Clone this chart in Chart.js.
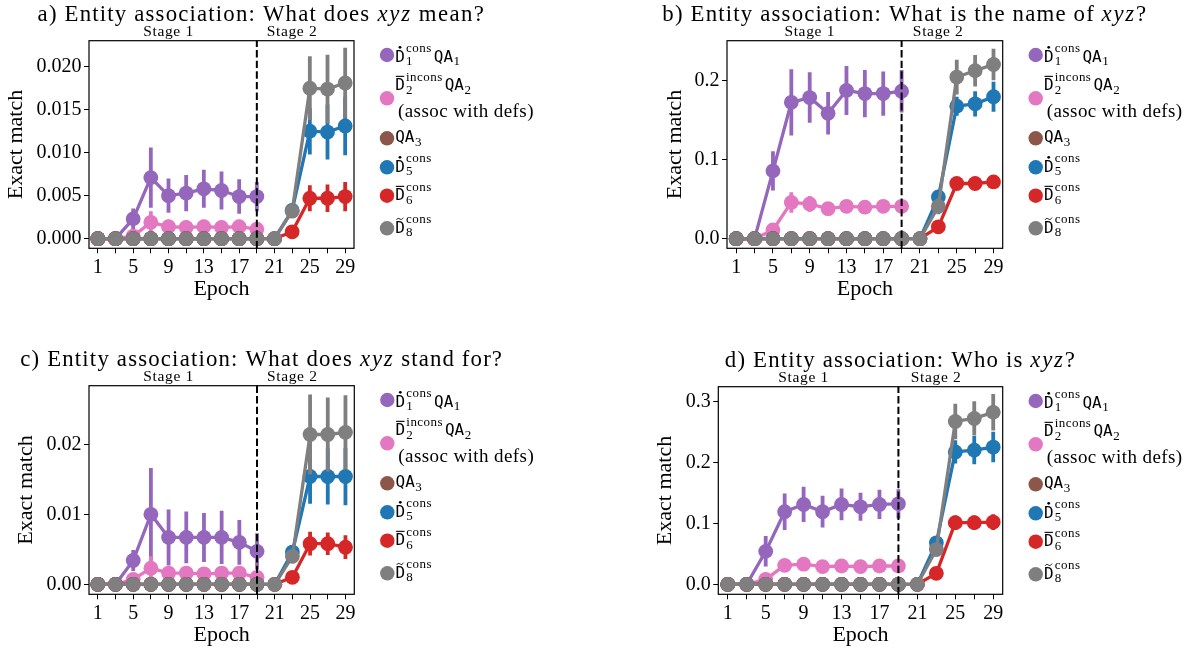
<!DOCTYPE html>
<html>
<head>
<meta charset="utf-8">
<script src="https://cdn.jsdelivr.net/npm/chart.js@4.4.1/dist/chart.umd.min.js"></script>
<style>
  html, body { margin: 0; padding: 0; background: #fff; }
  #fig { position: relative; width: 1186px; height: 651px; overflow: hidden; }
  #fig canvas { position: absolute; }
</style>
</head>
<body>
<div id="fig">
  <canvas id="panelA" width="593" height="325" style="left:0;top:0"></canvas>
  <canvas id="panelB" width="593" height="325" style="left:593px;top:0"></canvas>
  <canvas id="panelC" width="593" height="326" style="left:0;top:325px"></canvas>
  <canvas id="panelD" width="593" height="326" style="left:593px;top:325px"></canvas>
</div>
<script>
// epochs (odd only), stage boundary and tick labels
const epochs = [1, 3, 5, 7, 9, 11, 13, 15, 17, 19, 21, 23, 25, 27, 29];
const stageBoundary = 19;
const xTickLabels = [1, 5, 9, 13, 17, 21, 25, 29];
const stageNames = ["Stage 1", "Stage 2"];

const seriesColors = ["#9467bd", "#e377c2", "#8c564b", "#1f77b4", "#d62728", "#7f7f7f"];

// a) What does xyz mean?
const aD1 = [0, 0, 0.0023, 0.0071, 0.0050, 0.0053, 0.0058, 0.0056, 0.0049, 0.0049];
const aD1Err = [0, 0, 0.0012, 0.0035, 0.0020, 0.0021, 0.0022, 0.0022, 0.0020, 0.0017];
const aD2 = [0, 0, 0.0003, 0.0019, 0.0014, 0.0013, 0.0014, 0.0013, 0.0014, 0.0011];
const aD2Err = [0, 0, 0.0003, 0.0013, 0.0008, 0.0008, 0.0008, 0.0008, 0.0008, 0.0008];
const aQA3 = [0, 0, 0, 0, 0, 0, 0, 0, 0, 0];
const aD5 = [0, 0, 0, 0, 0, 0, 0, 0, 0, 0, 0, 0.0033, 0.0125, 0.0124, 0.0131];
const aD5Err = [0, 0, 0, 0, 0, 0, 0, 0, 0, 0, 0, 0.0008, 0.0027, 0.0032, 0.0034];
const aD6 = [0, 0, 0, 0, 0, 0, 0, 0, 0, 0, 0, 0.0008, 0.0047, 0.0047, 0.0049];
const aD6Err = [0, 0, 0, 0, 0, 0, 0, 0, 0, 0, 0, 0.0003, 0.0015, 0.0016, 0.0017];
const aD8 = [0, 0, 0, 0, 0, 0, 0, 0, 0, 0, 0, 0.0032, 0.0175, 0.0174, 0.0181];
const aD8Err = [0, 0, 0, 0, 0, 0, 0, 0, 0, 0, 0, 0.0008, 0.0037, 0.0040, 0.0041];
const aYTicks = [0, 0.005, 0.010, 0.015, 0.020];

// b) What is the name of xyz?
const bD1 = [0, 0, 0.086, 0.173, 0.179, 0.159, 0.188, 0.184, 0.184, 0.187];
const bD1Err = [0, 0, 0.025, 0.042, 0.032, 0.027, 0.031, 0.030, 0.028, 0.027];
const bD2 = [0, 0, 0.011, 0.046, 0.044, 0.038, 0.041, 0.040, 0.041, 0.041];
const bD2Err = [0, 0, 0.004, 0.013, 0.010, 0.008, 0.008, 0.008, 0.008, 0.008];
const bQA3 = [0, 0, 0, 0, 0, 0, 0, 0, 0, 0];
const bD5 = [0, 0, 0, 0, 0, 0, 0, 0, 0, 0, 0, 0.053, 0.168, 0.171, 0.180];
const bD5Err = [0, 0, 0, 0, 0, 0, 0, 0, 0, 0, 0, 0.007, 0.012, 0.016, 0.019];
const bD6 = [0, 0, 0, 0, 0, 0, 0, 0, 0, 0, 0, 0.015, 0.070, 0.070, 0.072];
const bD6Err = [0, 0, 0, 0, 0, 0, 0, 0, 0, 0, 0, 0.004, 0.007, 0.007, 0.008];
const bD8 = [0, 0, 0, 0, 0, 0, 0, 0, 0, 0, 0, 0.041, 0.205, 0.213, 0.221];
const bD8Err = [0, 0, 0, 0, 0, 0, 0, 0, 0, 0, 0, 0.010, 0.022, 0.020, 0.020];
const bYTicks = [0, 0.1, 0.2];

// c) What does xyz stand for?
const cD1 = [0, 0, 0.0034, 0.0100, 0.0067, 0.0067, 0.0067, 0.0067, 0.0060, 0.0047];
const cD1Err = [0, 0, 0.0015, 0.0066, 0.0040, 0.0037, 0.0035, 0.0038, 0.0032, 0.0026];
const cD2 = [0, 0, 0.0007, 0.0023, 0.0016, 0.0016, 0.0015, 0.0016, 0.0016, 0.0010];
const cD2Err = [0, 0, 0.0004, 0.0017, 0.0009, 0.0009, 0.0009, 0.0009, 0.0009, 0.0009];
const cQA3 = [0, 0, 0, 0, 0, 0, 0, 0, 0, 0];
const cD5 = [0, 0, 0, 0, 0, 0, 0, 0, 0, 0, 0, 0.0046, 0.0154, 0.0154, 0.0154];
const cD5Err = [0, 0, 0, 0, 0, 0, 0, 0, 0, 0, 0, 0.0010, 0.0039, 0.0040, 0.0041];
const cD6 = [0, 0, 0, 0, 0, 0, 0, 0, 0, 0, 0, 0.0010, 0.0058, 0.0058, 0.0053];
const cD6Err = [0, 0, 0, 0, 0, 0, 0, 0, 0, 0, 0, 0.0009, 0.0017, 0.0016, 0.0017];
const cD8 = [0, 0, 0, 0, 0, 0, 0, 0, 0, 0, 0, 0.0040, 0.0214, 0.0214, 0.0217];
const cD8Err = [0, 0, 0, 0, 0, 0, 0, 0, 0, 0, 0, 0.0010, 0.0057, 0.0053, 0.0053];
const cYTicks = [0, 0.01, 0.02];

// d) Who is xyz?
const dD1 = [0, 0, 0.054, 0.119, 0.131, 0.119, 0.131, 0.127, 0.131, 0.132];
const dD1Err = [0, 0, 0.025, 0.030, 0.029, 0.026, 0.026, 0.023, 0.024, 0.024];
const dD2 = [0, 0, 0.008, 0.031, 0.033, 0.029, 0.030, 0.029, 0.030, 0.030];
const dD2Err = [0, 0, 0.004, 0.008, 0.006, 0.006, 0.006, 0.006, 0.006, 0.006];
const dQA3 = [0, 0, 0, 0, 0, 0, 0, 0, 0, 0];
const dD5 = [0, 0, 0, 0, 0, 0, 0, 0, 0, 0, 0, 0.068, 0.217, 0.220, 0.225];
const dD5Err = [0, 0, 0, 0, 0, 0, 0, 0, 0, 0, 0, 0.010, 0.019, 0.023, 0.025];
const dD6 = [0, 0, 0, 0, 0, 0, 0, 0, 0, 0, 0, 0.018, 0.101, 0.101, 0.102];
const dD6Err = [0, 0, 0, 0, 0, 0, 0, 0, 0, 0, 0, 0.005, 0.012, 0.012, 0.013];
const dD8 = [0, 0, 0, 0, 0, 0, 0, 0, 0, 0, 0, 0.057, 0.267, 0.272, 0.282];
const dD8Err = [0, 0, 0, 0, 0, 0, 0, 0, 0, 0, 0, 0.010, 0.029, 0.028, 0.030];
const dYTicks = [0, 0.1, 0.2, 0.3];

// legend labels: typewriter D with accent, super/subscripts, typewriter QA
const legendLabels = [
  [{ D: "dot" }, { sup: "cons", sub: "1" }, { mono: "QA" }, { sub: "1" }],
  [{ D: "bar" }, { sup: "incons", sub: "2" }, { mono: "QA" }, { sub: "2" }],
  [{ mono: "QA" }, { sub: "3" }],
  [{ D: "dot" }, { sup: "cons", sub: "5" }],
  [{ D: "bar" }, { sup: "cons", sub: "6" }],
  [{ D: "tilde" }, { sup: "cons", sub: "8" }],
];
const legendNote = "(assoc with defs)";

const SERIF = '"Liberation Serif", "Times New Roman", serif';
const MONO = '"DejaVu Sans Mono", monospace';
const X_AXIS_H = 52;

function put(ctx, text, x, y, size, family, stretch, style) {
  ctx.font = (style || "") + " " + size + "px " + family;
  ctx.letterSpacing = "0px";
  const w = ctx.measureText(text).width;
  const extra = stretch && stretch !== 1 && text.length ? (w * (stretch - 1)) / text.length : 0;
  if (x !== null) {
    ctx.letterSpacing = extra.toFixed(2) + "px";
    ctx.fillText(text, x, y);
    ctx.letterSpacing = "0px";
  }
  return w + extra * text.length;
}

function drawLabel(ctx, x, base, tokens) {
  let cx = x;
  tokens.forEach((tk) => {
    if (tk.D) {
      const w = put(ctx, "D", cx, base, 16, MONO);
      const mid = cx + w / 2;
      if (tk.D === "dot") {
        ctx.beginPath();
        ctx.arc(mid, base - 14.4, 1.4, 0, 2 * Math.PI);
        ctx.fill();
      } else if (tk.D === "bar") {
        ctx.fillRect(cx + 0.6, base - 14.2, w - 1.2, 1.1);
      } else {
        ctx.save();
        ctx.lineWidth = 1;
        ctx.beginPath();
        ctx.moveTo(mid - 3.4, base - 13);
        ctx.bezierCurveTo(mid - 2, base - 16, mid + 0.2, base - 12.8, mid, base - 13.8);
        ctx.bezierCurveTo(mid + 1, base - 12.2, mid + 2.6, base - 14.2, mid + 3.4, base - 15);
        ctx.stroke();
        ctx.restore();
      }
      cx += w + 1.2;
    } else if (tk.mono) {
      cx += put(ctx, tk.mono, cx, base, 16, MONO);
    } else if (tk.sup !== undefined) {
      const w1 = put(ctx, tk.sup, cx, base - 9.3, 13, SERIF, 1.08);
      const w2 = put(ctx, tk.sub, cx, base + 3.6, 13, SERIF, 1.08);
      cx += Math.max(w1, w2) + 2;
    } else if (tk.sub) {
      cx += put(ctx, tk.sub, cx + 0.5, base + 3.6, 13, SERIF, 1.08);
    }
  });
}

const legendBase = [21, 49.3, 101.3, 131, 159.3, 192];
const legendMark = [14.3, 57.6, 97.6, 126.6, 155, 187.6];

const panelDecor = {
  id: "panelDecor",
  beforeDatasetDraw(chart, args) {
    const ds = chart.data.datasets[args.index];
    if (!ds.errors) return;
    const { ctx, chartArea } = chart;
    const ys = chart.scales.y;
    ctx.save();
    ctx.beginPath();
    ctx.rect(chartArea.left, chartArea.top, chartArea.width, chartArea.height);
    ctx.clip();
    ctx.strokeStyle = ds.borderColor;
    ctx.lineWidth = 3.8;
    args.meta.data.forEach((pt, i) => {
      const v = ds.data[i].y;
      const e = ds.errors[i];
      if (!e) return;
      ctx.beginPath();
      ctx.moveTo(pt.x, ys.getPixelForValue(v - e));
      ctx.lineTo(pt.x, ys.getPixelForValue(v + e));
      ctx.stroke();
    });
    ctx.restore();
  },
  afterDatasetsDraw(chart) {
    const { ctx, chartArea } = chart;
    const xb = chart.scales.x.getPixelForValue(stageBoundary);
    ctx.save();
    ctx.strokeStyle = "#000";
    ctx.lineWidth = 2;
    ctx.setLineDash([7.4, 3.2]);
    ctx.beginPath();
    ctx.moveTo(xb, chartArea.bottom);
    ctx.lineTo(xb, chartArea.top);
    ctx.stroke();
    ctx.setLineDash([]);
    ctx.lineWidth = 1.2;
    ctx.strokeRect(chartArea.left, chartArea.top, chartArea.width, chartArea.height);
    ctx.restore();
  },
  afterDraw(chart, args, opts) {
    const { ctx, chartArea } = chart;
    ctx.save();
    ctx.fillStyle = "#000";
    ctx.strokeStyle = "#000";
    ctx.textBaseline = "alphabetic";
    ctx.textAlign = "left";

    // title
    const tSize = 22.8;
    const parts = opts.title;
    let total = 0;
    parts.forEach((p) => { total += put(ctx, p.t, null, 0, tSize, SERIF, p.it ? 1.18 : 1.13, p.it ? "italic" : ""); });
    let tx = (chartArea.left + chartArea.right) / 2 + 40 - total / 2;
    parts.forEach((p) => { tx += put(ctx, p.t, tx, chartArea.top - 20, tSize, SERIF, p.it ? 1.18 : 1.13, p.it ? "italic" : ""); });

    // stage labels
    [0.3, 0.766].forEach((f, i) => {
      const w = put(ctx, stageNames[i], null, 0, 15.5, SERIF, 1.1);
      put(ctx, stageNames[i], chartArea.left + f * chartArea.width - w / 2, chartArea.top - 4.3, 15.5, SERIF, 1.1);
    });

    // legend
    const ox = chartArea.right + 33;
    const T = chartArea.top;
    legendLabels.forEach((tokens, i) => {
      ctx.fillStyle = seriesColors[i];
      ctx.beginPath();
      ctx.arc(ox, T + legendMark[i], 7.2, 0, 2 * Math.PI);
      ctx.fill();
      ctx.fillStyle = "#000";
      ctx.strokeStyle = "#000";
      drawLabel(ctx, ox + 8.2, T + legendBase[i], tokens);
    });
    put(ctx, legendNote, ox + 11, T + 76.3, 19, SERIF, 1.055);
    ctx.restore();
  },
};

function buildPanel(canvasId, p) {
  const canvas = document.getElementById(canvasId);
  const W = canvas.width, H = canvas.height;
  const datasets = p.series.map((s, i) => ({
    label: "s" + i,
    data: s.vals.map((v, j) => ({ x: epochs[j], y: v })),
    errors: s.errs,
    borderColor: seriesColors[i],
    backgroundColor: seriesColors[i],
    pointBackgroundColor: seriesColors[i],
    pointBorderWidth: 0,
    pointRadius: 7.4,
    pointHoverRadius: 7.4,
    borderWidth: 3.3,
    borderJoinStyle: "round",
    tension: 0,
    order: 6 - i,
  }));
  const tickFont = { family: SERIF, size: 20 };
  const titleFont = { family: SERIF, size: 22, lineHeight: 1 };
  new Chart(canvas.getContext("2d"), {
    type: "line",
    data: { datasets },
    options: {
      responsive: false,
      animation: false,
      events: [],
      devicePixelRatio: 1,
      layout: {
        padding: { left: 0, top: p.box.top, right: W - p.box.right, bottom: H - p.box.bottom - X_AXIS_H },
      },
      plugins: {
        legend: { display: false },
        tooltip: { enabled: false },
        title: { display: false },
        panelDecor: { title: p.title },
      },
      scales: {
        x: {
          type: "linear",
          min: 0,
          max: 30,
          afterBuildTicks: (s) => { s.ticks = epochs.map((v) => ({ value: v })); },
          afterFit: (s) => { s.height = X_AXIS_H; s.paddingLeft = 0; s.paddingRight = 0; },
          ticks: {
            autoSkip: false, maxRotation: 0, minRotation: 0, padding: 2, color: "#000", font: tickFont,
            callback: (v) => (xTickLabels.includes(v) ? String(v) : ""),
          },
          grid: { display: true, drawOnChartArea: false, drawTicks: true, tickLength: 5, tickColor: "#000", tickWidth: 1 },
          border: { display: false },
          title: { display: true, text: "Epoch", color: "#000", font: titleFont, padding: { top: 0, bottom: 0.4 } },
        },
        y: {
          type: "linear",
          min: p.yMin,
          max: p.yMax,
          afterBuildTicks: (s) => { s.ticks = p.yTicks.map((v) => ({ value: v })); },
          afterFit: (s) => { s.width = p.box.left; s.paddingTop = 0; s.paddingBottom = 0; },
          ticks: { padding: 2.5, color: "#000", font: tickFont, callback: (v) => Number(v).toFixed(p.yDec) },
          grid: { display: true, drawOnChartArea: false, drawTicks: true, tickLength: 5, tickColor: "#000", tickWidth: 1 },
          border: { display: false },
          title: { display: true, text: "Exact match", color: "#000", font: titleFont, padding: { top: p.box.yTitleX - 11, bottom: 0 } },
        },
      },
    },
    plugins: [panelDecor],
  });
}

buildPanel("panelA", {
  title: [{ t: "a) Entity association: What does " }, { t: "xyz", it: true }, { t: " mean?" }],
  series: [
    { vals: aD1, errs: aD1Err }, { vals: aD2, errs: aD2Err }, { vals: aQA3, errs: null },
    { vals: aD5, errs: aD5Err }, { vals: aD6, errs: aD6Err }, { vals: aD8, errs: aD8Err },
  ],
  yMin: -0.00112, yMax: 0.02302, yTicks: aYTicks, yDec: 3,
  box: { left: 89, right: 354, top: 40.7, bottom: 248.3, yTitleX: 16.7 },
});

buildPanel("panelB", {
  title: [{ t: "b) Entity association: What is the name of " }, { t: "xyz", it: true }, { t: "?" }],
  series: [
    { vals: bD1, errs: bD1Err }, { vals: bD2, errs: bD2Err }, { vals: bQA3, errs: null },
    { vals: bD5, errs: bD5Err }, { vals: bD6, errs: bD6Err }, { vals: bD8, errs: bD8Err },
  ],
  yMin: -0.0122, yMax: 0.2511, yTicks: bYTicks, yDec: 1,
  box: { left: 134, right: 409.7, top: 40.7, bottom: 248.3, yTitleX: 82 },
});

buildPanel("panelC", {
  title: [{ t: "c) Entity association: What does " }, { t: "xyz", it: true }, { t: " stand for?" }],
  series: [
    { vals: cD1, errs: cD1Err }, { vals: cD2, errs: cD2Err }, { vals: cQA3, errs: null },
    { vals: cD5, errs: cD5Err }, { vals: cD6, errs: cD6Err }, { vals: cD8, errs: cD8Err },
  ],
  yMin: -0.00143, yMax: 0.02837, yTicks: cYTicks, yDec: 2,
  box: { left: 89, right: 354.3, top: 60.7, bottom: 269.3, yTitleX: 26.7 },
});

buildPanel("panelD", {
  title: [{ t: "d) Entity association: Who is " }, { t: "xyz", it: true }, { t: "?" }],
  series: [
    { vals: dD1, errs: dD1Err }, { vals: dD2, errs: dD2Err }, { vals: dQA3, errs: null },
    { vals: dD5, errs: dD5Err }, { vals: dD6, errs: dD6Err }, { vals: dD8, errs: dD8Err },
  ],
  yMin: -0.0164, yMax: 0.324, yTicks: dYTicks, yDec: 1,
  box: { left: 125.3, right: 409.7, top: 61.7, bottom: 269.3, yTitleX: 72 },
});
</script>
</body>
</html>
